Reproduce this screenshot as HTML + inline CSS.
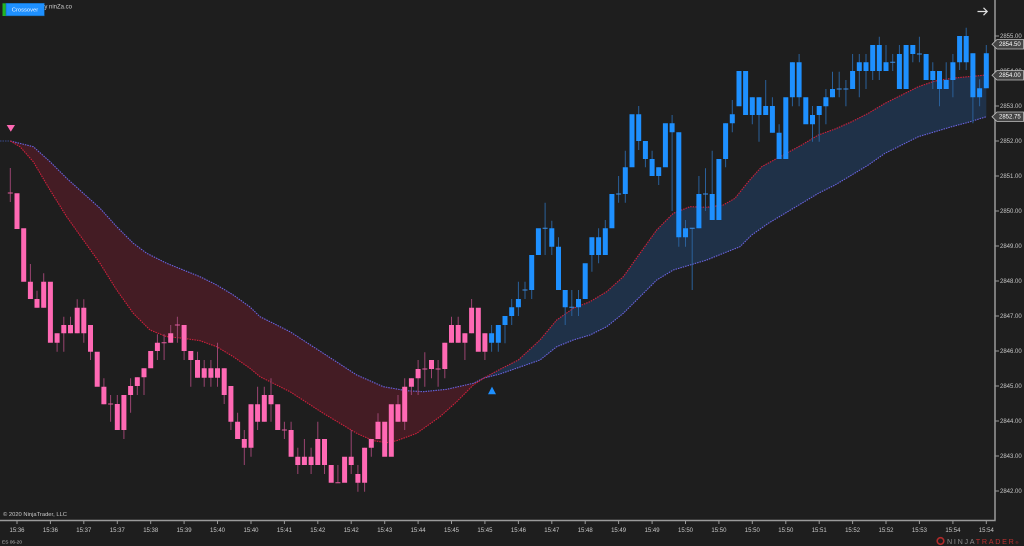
<!DOCTYPE html>
<html><head><meta charset="utf-8"><style>
html,body{margin:0;padding:0;background:#1e1e1e;}
svg{display:block;font-family:"Liberation Sans",sans-serif;}
</style></head><body>
<svg width="1024" height="546" viewBox="0 0 1024 546" xmlns="http://www.w3.org/2000/svg">
<rect width="1024" height="546" fill="#1e1e1e"/>
<!-- fills -->
<polygon fill="#441c24" points="10.3,141 33.3,146.7 50,161.7 66.7,178.3 83.3,193.3 100,208.3 116.7,226.7 133.3,243.3 146.7,253.3 166.7,263.3 183.3,270 200,276.7 216.7,285 233.3,295 250,307 260,316.7 290,331.7 323.3,353.3 356.7,375 383.3,386.7 406.7,390.7 423.3,391.7 446.7,389.3 473.3,383.3 484,378 473.3,385 456.7,401.7 440,416.7 416.7,433.3 396.7,440.7 386.7,442.7 373.3,440.7 356.7,433.3 323.3,413.3 290,391.7 260,376.7 250,368.3 233.3,356.7 216.7,346.7 200,340.7 183.3,338.3 166.7,336.7 150,330 133.3,313.3 116.7,290 100,263.3 83.3,240 66.7,216.7 50,190 33.3,161.7 20,146.7"/>
<polygon fill="#1f3148" points="484,378 500,369.3 518.3,360 540,340 556.7,320 573.3,308.3 590,301.7 606.7,291.7 623.3,276.7 640,253.3 656.7,230 673.3,213.3 690,206.7 706.7,207.3 723.3,205 735,198.3 748.3,181.7 761.7,166.7 778.3,157.7 801.7,145 818.3,135 835,129 851.7,121.7 868.3,113.3 885,103.3 901.7,95 918.3,86.7 935,81 951.7,78.3 968.3,76.7 986.3,75 986.3,116.7 968.3,122.3 951.7,126.7 935,131.7 918.3,136.7 901.7,145 885,153.3 868.3,165 851.7,175 835,185 818.3,193.3 801.7,203.3 785,213.3 768.3,223.3 751.7,235 740,246.7 723.3,253.3 706.7,260 690,265 673.3,270 656.7,280 640,296.7 623.3,313.3 606.7,326.7 590,335 573.3,340 556.7,346.7 540,360 520,367 500,374"/>
<!-- lines -->
<polyline fill="none" stroke="#3a4a8a" stroke-width="1" stroke-dasharray="1.5 1" points="0,141 10.3,141"/>
<polyline fill="none" stroke="#6a64e0" stroke-width="1.1" stroke-dasharray="1.5 1" points="10.3,141 33.3,146.7 50,161.7 66.7,178.3 83.3,193.3 100,208.3 116.7,226.7 133.3,243.3 146.7,253.3 166.7,263.3 183.3,270 200,276.7 216.7,285 233.3,295 250,307 260,316.7 290,331.7 323.3,353.3 356.7,375 383.3,386.7 406.7,390.7 423.3,391.7 446.7,389.3 473.3,383.3 484,378 500,374 520,367 540,360 556.7,346.7 573.3,340 590,335 606.7,326.7 623.3,313.3 640,296.7 656.7,280 673.3,270 690,265 706.7,260 723.3,253.3 740,246.7 751.7,235 768.3,223.3 785,213.3 801.7,203.3 818.3,193.3 835,185 851.7,175 868.3,165 885,153.3 901.7,145 918.3,136.7 935,131.7 951.7,126.7 968.3,122.3 986.3,116.7"/>
<polyline fill="none" stroke="#d0203c" stroke-width="1.1" stroke-dasharray="1.5 1" points="10.3,141 20,146.7 33.3,161.7 50,190 66.7,216.7 83.3,240 100,263.3 116.7,290 133.3,313.3 150,330 166.7,336.7 183.3,338.3 200,340.7 216.7,346.7 233.3,356.7 250,368.3 260,376.7 290,391.7 323.3,413.3 356.7,433.3 373.3,440.7 386.7,442.7 396.7,440.7 416.7,433.3 440,416.7 456.7,401.7 473.3,385 484,378 500,369.3 518.3,360 540,340 556.7,320 573.3,308.3 590,301.7 606.7,291.7 623.3,276.7 640,253.3 656.7,230 673.3,213.3 690,206.7 706.7,207.3 723.3,205 735,198.3 748.3,181.7 761.7,166.7 778.3,157.7 801.7,145 818.3,135 835,129 851.7,121.7 868.3,113.3 885,103.3 901.7,95 918.3,86.7 935,81 951.7,78.3 968.3,76.7 986.3,75"/>
<!-- pink wicks -->
<path fill="none" stroke="#9a4470" stroke-width="1" d="M10.3 168V202M30.4 264V299M37 290.7V307.7M43.7 273.3V307.7M57.1 333.3V351.7M63.8 316.7V351.7M70.5 316.7V333.3M77.2 299.3V333.3M83.8 299.3V342.7M90.5 325V360M103.9 378.3V404.3M110.6 395V421.7M117.3 395V430M123.9 395V439M130.6 378.3V412.7M137.3 377.3V395M144 368.3V395M157.4 334.3V360M164.1 334.3V360M170.7 325V342.7M177.4 316.7V342.7M184.1 325V360M190.8 351V386.7M197.5 351.7V377.7M204.2 360V386.7M210.9 360V386.7M217.5 342.7V386.7M224.2 368.3V404M230.9 386V430M237.6 412.7V439M244.3 430V465M251 404.3V456.7M257.6 386.7V430M264.3 386.7V421.7M271 378.3V421.7M284.4 421.7V439M291.1 421.7V456.7M297.8 447.7V474M304.4 439V465M311.1 447.7V474M317.8 421.7V465M324.5 439V474M337.9 465V482.7M351.2 430V474M357.9 465V491.7M364.6 447.7V491.7M371.3 439V456.7M378 413.3V439M398 395V421.7M404.7 378.3V430M411.4 378.3V395M418.1 360V395M424.8 352.3V386.7M431.5 360V378.3M438.1 360V386.7M444.8 342.7V378.3M451.5 316.7V342.7M458.2 316.7V342.7M464.9 333.3V360M471.6 299V333.3M484.9 333.3V360"/>
<!-- pink bodies -->
<path fill="#ff69b4" d="M14.5 193.3h5V229h-5zM21.2 228.3h5V281.7h-5zM27.9 281.7h5V299h-5zM34.5 299h5V307.7h-5zM41.2 281.7h5V307.7h-5zM47.9 281.7h5V342.7h-5zM54.6 333.3h5V342.7h-5zM61.3 325h5V333.3h-5zM68 325h5V333.3h-5zM74.7 307.7h5V333.3h-5zM81.3 307.7h5V333.3h-5zM88 325h5V351.7h-5zM94.7 351.7h5V386.7h-5zM101.4 386.7h5V404.3h-5zM114.8 404h5V430h-5zM121.4 395h5V430h-5zM128.1 386h5V395h-5zM134.8 377.3h5V386h-5zM141.5 368.3h5V377.3h-5zM148.2 351h5V368.3h-5zM154.9 342.7h5V351h-5zM168.2 333.3h5V342.7h-5zM181.6 325h5V351h-5zM188.3 351h5V360h-5zM195 360h5V377.7h-5zM201.7 368.3h5V377.7h-5zM208.4 368.3h5V377.7h-5zM215 368.3h5V377.7h-5zM221.7 368.3h5V395h-5zM228.4 386h5V421.7h-5zM235.1 421.7h5V439h-5zM241.8 439h5V447.7h-5zM248.5 404.3h5V447.7h-5zM255.1 404.3h5V421.7h-5zM261.8 395h5V421.7h-5zM268.5 395h5V404.3h-5zM275.2 404.3h5V430h-5zM288.6 430h5V456.7h-5zM295.3 456.7h5V465h-5zM301.9 456.7h5V465h-5zM308.6 456.7h5V465h-5zM315.3 439h5V465h-5zM322 439h5V465h-5zM328.7 465h5V482.7h-5zM342.1 456.7h5V482.7h-5zM348.7 456.7h5V465h-5zM355.4 474h5V482.7h-5zM362.1 447.7h5V482.7h-5zM368.8 439h5V447.7h-5zM375.5 421.7h5V439h-5zM382.2 421.7h5V456.7h-5zM388.8 404.3h5V456.7h-5zM395.5 404.3h5V421.7h-5zM402.2 386.7h5V421.7h-5zM408.9 378.3h5V386.7h-5zM415.6 369h5V378.3h-5zM429 360h5V369h-5zM442.3 342.7h5V369h-5zM449 325h5V342.7h-5zM455.7 325h5V342.7h-5zM462.4 333.3h5V342.7h-5zM469.1 307.7h5V333.3h-5zM475.8 307.7h5V351.7h-5zM482.4 333.3h5V351.7h-5z"/>
<path fill="none" stroke="#e05a9c" stroke-width="1" d="M7.8 193h5M108.1 404h5M161.6 342.7h5M174.9 325h5M281.9 430h5M335.4 482.7h5M422.3 369h5M435.6 369h5"/>
<!-- blue wicks -->
<path fill="none" stroke="#2a609a" stroke-width="1" d="M491.6 325V351.7M498.3 325V351.7M505 316V343.3M511.7 299V325M518.4 281.7V316M525 281.7V299M531.7 255V299M545.1 202.7V255M551.8 220.7V255M558.5 237.3V290M565.2 290V325M571.8 290V316M578.5 290V316M591.9 237.3V271.7M598.6 228.3V263.3M605.3 220V255M618.6 176V202.7M625.3 150.7V202.7M638.7 106V150M645.4 141V167.3M652.1 150.7V176M658.7 167.3V185M672.1 115V211M678.8 132.3V246.7M685.5 220V246.7M692.2 228.3V290M698.9 176V228.3M705.5 168.3V211M712.2 150.7V220M725.6 123.3V167.3M732.3 100V132.3M752.3 97.3V124.3M759 97.3V141.7M765.7 80V115M772.4 97.3V132.7M779.1 124.3V159M792.4 62.3V106.3M799.1 54V106.3M812.5 106V141.7M819.2 106V141.7M825.9 89V124.3M832.5 71.7V97.3M839.2 71.7V97.3M845.9 80V106.3M852.6 54V89M859.3 54V97.3M866 54V89M872.7 45V80M879.3 36.7V80M886 45V71M892.7 54V71M899.4 45V89M912.8 45V62.3M919.4 36.7V62.3M932.8 62.3V89M939.5 71V106.3M946.2 62.3V89M952.9 54V97.3M959.6 36V70M966.2 27.7V70M972.9 53.3V123.3M979.6 79.3V106.3M986.3 45V88.3"/>
<!-- blue bodies -->
<path fill="#1e90ff" d="M489.1 333.3h5V342.7h-5zM495.8 325h5V342.7h-5zM502.5 316h5V325h-5zM509.2 307.3h5V316h-5zM515.9 299h5V307.3h-5zM529.2 255h5V290h-5zM535.9 228.3h5V255h-5zM549.3 228.3h5V246.7h-5zM556 246.7h5V290h-5zM562.7 290h5V307.3h-5zM576 299h5V307.3h-5zM582.7 263.3h5V299h-5zM589.4 237.3h5V255h-5zM596.1 237.3h5V255h-5zM602.8 228.3h5V255h-5zM609.4 194h5V228.3h-5zM622.8 167.3h5V194h-5zM629.5 114.3h5V167.3h-5zM636.2 114.3h5V141h-5zM642.9 141h5V159h-5zM649.6 159h5V176h-5zM656.2 167.3h5V176h-5zM662.9 123.3h5V167.3h-5zM669.6 123.3h5V132.3h-5zM676.3 132.3h5V237.3h-5zM683 228.3h5V237.3h-5zM696.4 194h5V228.3h-5zM709.7 194h5V220h-5zM716.4 159h5V220h-5zM723.1 123.3h5V159h-5zM729.8 114.3h5V123.3h-5zM736.5 71h5V106.3h-5zM743.1 71h5V115h-5zM749.8 97.3h5V115h-5zM756.5 97.3h5V115h-5zM763.2 106h5V115h-5zM769.9 106h5V132.7h-5zM776.6 132.7h5V159h-5zM783.3 97.3h5V159h-5zM789.9 62.3h5V97.3h-5zM796.6 62.3h5V97.3h-5zM803.3 97.3h5V124.3h-5zM810 115h5V124.3h-5zM816.7 106h5V115h-5zM823.4 97.3h5V106.3h-5zM830 89h5V97.3h-5zM850.1 71h5V89h-5zM856.8 62.3h5V71h-5zM863.5 62.3h5V71h-5zM870.2 45h5V71h-5zM876.8 45h5V71h-5zM883.5 62.3h5V71h-5zM896.9 54h5V89h-5zM903.6 45h5V89h-5zM910.3 45h5V54h-5zM923.6 54h5V80h-5zM930.3 71h5V80h-5zM937 71h5V89h-5zM943.7 80h5V89h-5zM950.4 62.3h5V80h-5zM957.1 36h5V62.3h-5zM963.7 36h5V62.3h-5zM970.4 53.3h5V97.3h-5zM977.1 88.3h5V97.3h-5zM983.8 53.3h5V88.3h-5z"/>
<path fill="none" stroke="#3a8fe8" stroke-width="1" d="M522.5 290h5M542.6 228.3h5M569.3 307.3h5M616.1 194h5M689.7 228.3h5M703 194h5M836.7 89h5M843.4 89h5M890.2 62.3h5M916.9 54h5"/>
<!-- signal markers -->
<polygon fill="#ff69b4" points="6.7,125 15,125 10.8,131.7"/>
<polygon fill="#1e90ff" points="488,394.2 496,394.2 492,386.6"/>
<!-- axes -->
<path fill="none" stroke="#9a9a9a" stroke-width="1.5" d="M995 0V520.5M0 520.5H995.7"/>
<path fill="none" stroke="#9a9a9a" stroke-width="1" d="M995 36h4M995 71h4M995 106h4M995 141h4M995 176h4M995 211h4M995 246h4M995 281h4M995 316h4M995 351h4M995 386h4M995 421h4M995 456h4M995 491h4M17 520v4M50.4 520v4M83.8 520v4M117.3 520v4M150.7 520v4M184.1 520v4M217.5 520v4M251 520v4M284.4 520v4M317.8 520v4M351.2 520v4M384.7 520v4M418.1 520v4M451.5 520v4M484.9 520v4M518.4 520v4M551.8 520v4M585.2 520v4M618.6 520v4M652.1 520v4M685.5 520v4M718.9 520v4M752.3 520v4M785.8 520v4M819.2 520v4M852.6 520v4M886 520v4M919.4 520v4M952.9 520v4M986.3 520v4"/>
<g fill="#c8c8c8" font-size="6" dominant-baseline="middle">
<text x="1000" y="36.5">2855.00</text>
<text x="1000" y="71.5">2854.00</text>
<text x="1000" y="106.5">2853.00</text>
<text x="1000" y="141.5">2852.00</text>
<text x="1000" y="176.5">2851.00</text>
<text x="1000" y="211.5">2850.00</text>
<text x="1000" y="246.5">2849.00</text>
<text x="1000" y="281.5">2848.00</text>
<text x="1000" y="316.5">2847.00</text>
<text x="1000" y="351.5">2846.00</text>
<text x="1000" y="386.5">2845.00</text>
<text x="1000" y="421.5">2844.00</text>
<text x="1000" y="456.5">2843.00</text>
<text x="1000" y="491.5">2842.00</text>
</g>
<g fill="#c8c8c8" font-size="6" text-anchor="middle">
<text x="17" y="532">15:36</text><text x="50.4" y="532">15:36</text><text x="83.8" y="532">15:37</text><text x="117.3" y="532">15:37</text><text x="150.7" y="532">15:38</text><text x="184.1" y="532">15:39</text><text x="217.5" y="532">15:40</text><text x="251" y="532">15:40</text><text x="284.4" y="532">15:41</text><text x="317.8" y="532">15:42</text><text x="351.2" y="532">15:42</text><text x="384.7" y="532">15:43</text><text x="418.1" y="532">15:44</text><text x="451.5" y="532">15:45</text><text x="484.9" y="532">15:45</text><text x="518.4" y="532">15:46</text><text x="551.8" y="532">15:47</text><text x="585.2" y="532">15:48</text><text x="618.6" y="532">15:49</text><text x="652.1" y="532">15:49</text><text x="685.5" y="532">15:50</text><text x="718.9" y="532">15:50</text><text x="752.3" y="532">15:50</text><text x="785.8" y="532">15:50</text><text x="819.2" y="532">15:51</text><text x="852.6" y="532">15:52</text><text x="886" y="532">15:52</text><text x="919.4" y="532">15:53</text><text x="952.9" y="532">15:54</text><text x="986.3" y="532">15:54</text>
</g>
<!-- price flags -->
<g font-size="6" fill="#ffffff" dominant-baseline="middle">
<polygon points="992,44.3 997,39.5 1023.5,39.5 1023.5,49 997,49" fill="#454545" stroke="#c0c0c0" stroke-width="0.8"/>
<text x="999" y="44.6">2854.50</text>
<polygon points="992,75.3 997,70.5 1023.5,70.5 1023.5,80 997,80" fill="#454545" stroke="#c0c0c0" stroke-width="0.8"/>
<text x="999" y="75.6">2854.00</text>
<polygon points="992,116.7 997,112 1023.5,112 1023.5,121.5 997,121.5" fill="#454545" stroke="#c0c0c0" stroke-width="0.8"/>
<text x="999" y="117">2852.75</text>
</g>
<!-- arrow top right -->
<path d="M977.5 11.5H987M983.5 7.8L987.2 11.5L983.5 15.2" fill="none" stroke="#e0e0e0" stroke-width="1.2"/>
<!-- header -->
<text x="41" y="8.6" font-size="6" fill="#d0d0d0">by ninZa.co</text>
<rect x="2.5" y="3.3" width="3.5" height="12.7" fill="#22b422"/>
<rect x="6" y="3.3" width="38.3" height="12.5" fill="#1e90ff" stroke="#1565a8" stroke-width="0.6"/>
<text x="25" y="11.7" font-size="5.8" fill="#e8f2ff" text-anchor="middle">Crossover</text>
<!-- footer -->
<text x="3" y="516" font-size="5.8" fill="#c8c8c8">© 2020 NinjaTrader, LLC</text>
<text x="2" y="543.5" font-size="4.8" fill="#bbbbbb">ES 06-20</text>
<circle cx="940.5" cy="541" r="3.3" fill="none" stroke="#b02a2a" stroke-width="1.6"/>
<text x="947" y="543.8" font-size="7.2" letter-spacing="1.7" fill="#8a8a8a">NINJA<tspan fill="#b8302e">TRADER</tspan><tspan font-size="4" fill="#b8302e">®</tspan></text>
</svg>
</body></html>
